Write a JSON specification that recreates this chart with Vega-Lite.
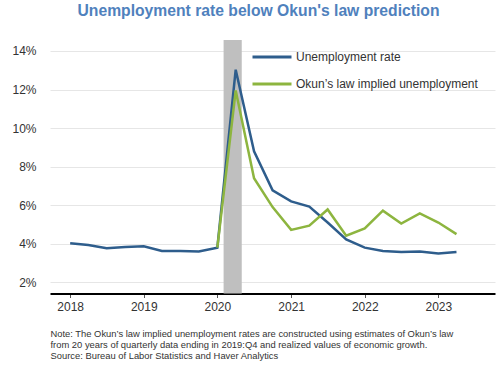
{
  "$schema": "https://vega.github.io/schema/vega-lite/v6.json",
  "autosize": "none",
  "width": 445,
  "height": 253.5,
  "padding": {"left": 50, "top": 40, "right": 5, "bottom": 71.5},
  "config": {
    "font": "Liberation Sans",
    "view": {"stroke": null}
  },
  "title": {
    "text": "Unemployment rate below Okun's law prediction",
    "fontSize": 15.7,
    "fontWeight": "bold",
    "color": "#4f81bd",
    "anchor": "middle",
    "frame": "group",
    "dx": -14,
    "baseline": "alphabetic",
    "offset": 4
  },
  "datasets": {
    "series": [
      {"date": "2018-01-01", "series": "Unemployment rate", "value": 4.03},
      {"date": "2018-04-01", "series": "Unemployment rate", "value": 3.93},
      {"date": "2018-07-01", "series": "Unemployment rate", "value": 3.77},
      {"date": "2018-10-01", "series": "Unemployment rate", "value": 3.83},
      {"date": "2019-01-01", "series": "Unemployment rate", "value": 3.87},
      {"date": "2019-04-01", "series": "Unemployment rate", "value": 3.63},
      {"date": "2019-07-01", "series": "Unemployment rate", "value": 3.63},
      {"date": "2019-10-01", "series": "Unemployment rate", "value": 3.6},
      {"date": "2020-01-01", "series": "Unemployment rate", "value": 3.8},
      {"date": "2020-04-01", "series": "Unemployment rate", "value": 13.03},
      {"date": "2020-07-01", "series": "Unemployment rate", "value": 8.8},
      {"date": "2020-10-01", "series": "Unemployment rate", "value": 6.77},
      {"date": "2021-01-01", "series": "Unemployment rate", "value": 6.2},
      {"date": "2021-04-01", "series": "Unemployment rate", "value": 5.93},
      {"date": "2021-07-01", "series": "Unemployment rate", "value": 5.1},
      {"date": "2021-10-01", "series": "Unemployment rate", "value": 4.23},
      {"date": "2022-01-01", "series": "Unemployment rate", "value": 3.8},
      {"date": "2022-04-01", "series": "Unemployment rate", "value": 3.63},
      {"date": "2022-07-01", "series": "Unemployment rate", "value": 3.57},
      {"date": "2022-10-01", "series": "Unemployment rate", "value": 3.6},
      {"date": "2023-01-01", "series": "Unemployment rate", "value": 3.5},
      {"date": "2023-04-01", "series": "Unemployment rate", "value": 3.57},
      {"date": "2020-01-01", "series": "Okun’s law implied unemployment", "value": 3.8},
      {"date": "2020-04-01", "series": "Okun’s law implied unemployment", "value": 11.95},
      {"date": "2020-07-01", "series": "Okun’s law implied unemployment", "value": 7.4},
      {"date": "2020-10-01", "series": "Okun’s law implied unemployment", "value": 5.9},
      {"date": "2021-01-01", "series": "Okun’s law implied unemployment", "value": 4.72},
      {"date": "2021-04-01", "series": "Okun’s law implied unemployment", "value": 4.94},
      {"date": "2021-07-01", "series": "Okun’s law implied unemployment", "value": 5.78},
      {"date": "2021-10-01", "series": "Okun’s law implied unemployment", "value": 4.42},
      {"date": "2022-01-01", "series": "Okun’s law implied unemployment", "value": 4.8},
      {"date": "2022-04-01", "series": "Okun’s law implied unemployment", "value": 5.72},
      {"date": "2022-07-01", "series": "Okun’s law implied unemployment", "value": 5.05},
      {"date": "2022-10-01", "series": "Okun’s law implied unemployment", "value": 5.58},
      {"date": "2023-01-01", "series": "Okun’s law implied unemployment", "value": 5.1},
      {"date": "2023-04-01", "series": "Okun’s law implied unemployment", "value": 4.5}
    ],
    "recession": [
      {"start": "2020-02-01", "end": "2020-05-01"}
    ]
  },
  "layer": [
    {
      "data": {"name": "recession"},
      "mark": {"type": "rect", "color": "#bfbfbf", "opacity": 1},
      "encoding": {
        "x": {"field": "start", "type": "temporal"},
        "x2": {"field": "end"}
      }
    },
    {
      "data": {"name": "series"},
      "mark": {"type": "line", "strokeWidth": 2.5},
      "encoding": {
        "x": {
          "field": "date",
          "type": "temporal",
          "scale": {
            "type": "utc",
            "domain": [
              {"year": 2017, "month": 9, "date": 23, "utc": true},
              {"year": 2023, "month": 10, "date": 9, "utc": true}
            ]
          },
          "axis": {
            "format": "%Y",
            "values": [
              {"year": 2018, "utc": true},
              {"year": 2019, "utc": true},
              {"year": 2020, "utc": true},
              {"year": 2021, "utc": true},
              {"year": 2022, "utc": true},
              {"year": 2023, "utc": true}
            ],
            "grid": false,
            "domainColor": "#000000",
            "domainWidth": 2,
            "tickColor": "#555555",
            "tickSize": 4,
            "labelFontSize": 12,
            "labelColor": "#333333",
            "labelPadding": 4,
            "labelFlush": false,
            "title": [
              "Note: The Okun’s law implied unemployment rates are constructed using estimates of Okun’s law",
              "from 20 years of quarterly data ending in 2019:Q4 and realized values of economic growth.",
              "Source: Bureau of Labor Statistics and Haver Analytics"
            ],
            "titleFontSize": 9.4,
            "titleFontWeight": "normal",
            "titleColor": "#333333",
            "titleAnchor": "start",
            "titleAlign": "left",
            "titleBaseline": "top",
            "titleX": 0,
            "titleY": 36,
            "titleLineHeight": 10.8
          }
        },
        "y": {
          "field": "value",
          "type": "quantitative",
          "scale": {"domain": [1.42, 14.57], "nice": false, "zero": false},
          "axis": {
            "values": [2, 4, 6, 8, 10, 12, 14],
            "labelExpr": "datum.value + '%'",
            "domain": false,
            "ticks": false,
            "tickSize": 0,
            "labelPadding": 14,
            "labelFontSize": 12,
            "labelColor": "#333333",
            "gridColor": "#e6e6e6",
            "gridWidth": 1,
            "title": null
          }
        },
        "color": {
          "field": "series",
          "type": "nominal",
          "scale": {
            "domain": ["Unemployment rate", "Okun’s law implied unemployment"],
            "range": ["#2e5d8c", "#8db53f"]
          },
          "legend": {
            "title": null,
            "orient": "none",
            "legendX": 201,
            "legendY": -4,
            "symbolType": "stroke",
            "symbolSize": 1521,
            "symbolStrokeWidth": 3,
            "labelFontSize": 12,
            "labelColor": "#333333",
            "labelOffset": 3,
            "labelLimit": 300,
            "rowPadding": -6
          }
        }
      }
    }
  ]
}
